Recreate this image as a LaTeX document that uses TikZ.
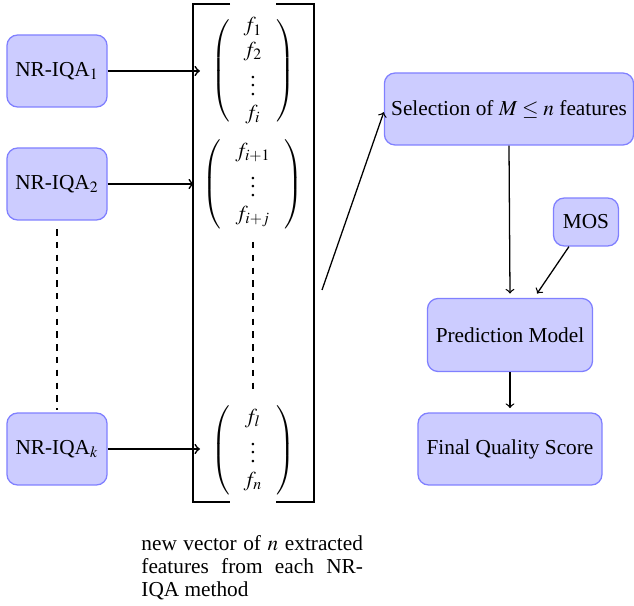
\documentclass[tikz,border=0pt]{standalone}
\usepackage{amsmath}
\usepackage{mathptmx}
\usepackage{fontspec}
\setmainfont{Liberation Serif}
\newcommand{\fvec}[1]{\left(\renewcommand{\arraystretch}{0.95}\begin{array}{@{\hspace{6.5pt}}c@{\hspace{6.5pt}}}#1\end{array}\right)}
\begin{document}
\begin{tikzpicture}[x=0.4695pt,y=-0.4695pt,
  box/.style={draw=blue!50,fill=blue!20,semithick,rounded corners=5pt,align=center,inner sep=2pt},
  arr/.style={->,thick},
  arrs/.style={->,semithick}]
\useasboundingbox (0,0) rectangle (634,606);
% left boxes
\node[box,minimum width=47pt,minimum height=33.8pt] (q1) at (57,71) {NR-IQA$_1$};
\node[box,minimum width=47pt,minimum height=33.8pt] (q2) at (57,184) {NR-IQA$_2$};
\node[box,minimum width=47pt,minimum height=33.8pt] (qk) at (57,449) {NR-IQA$_k$};
\draw[dashed,thick] ([yshift=-4pt]q2.south) -- ([yshift=1pt]qk.north);
% feature vectors
\node (m1) at (253,71) {$\fvec{f_1\\ f_2\\ \vdots\\ f_i}$};
\node (m2) at (253,184) {$\fvec{f_{i+1}\\ \vdots\\ f_{i+j}}$};
\node (m3) at (253,450) {$\fvec{f_{l}\\ \vdots\\ f_{n}}$};
\draw[dashed,thick] (253,242) -- (253,395);
% bracket
\draw[very thick] (230,4) -- (193,4) -- (193,502) -- (230,502);
\draw[very thick] (276,4) -- (314,4) -- (314,502) -- (276,502);
\coordinate (e1) at (200,71);
\coordinate (e2) at (194,184);
\coordinate (ek) at (200,449);
\draw[arr] (q1.east) -- (e1);
\draw[arr] (q2.east) -- (e2);
\draw[arr] (qk.east) -- (ek);
% right part
\node[box,minimum width=117pt,minimum height=33.8pt] (sel) at (509,109) {Selection of $M \leq n$ features};
\node[box,minimum width=30.5pt,minimum height=22.5pt] (mos) at (586,222) {MOS};
\node[box,minimum width=77.5pt,minimum height=34.3pt] (pred) at (510,335) {Prediction Model};
\node[box,minimum width=86.4pt,minimum height=33.8pt] (fin) at (510,449) {Final Quality Score};
\coordinate (vs) at (322,290);
\draw[arrs] (vs) -- ([yshift=-1.5pt]sel.west);
\draw[arrs] (sel.south) -- ([yshift=2pt]pred.north);
\draw[arrs] ([xshift=-8pt]mos.south) -- ([xshift=12.7pt,yshift=2pt]pred.north);
\draw[arrs] (pred.south) -- ([yshift=2pt]fin.north);
% caption
\node[anchor=north west,text width=104pt,align=justify,inner sep=0pt,font={\fontsize{10}{10.8}\selectfont}] (cap) at (141,535)
  {new vector of $n$ extracted\linebreak features from each NR-\linebreak IQA method};
\end{tikzpicture}
\end{document}
